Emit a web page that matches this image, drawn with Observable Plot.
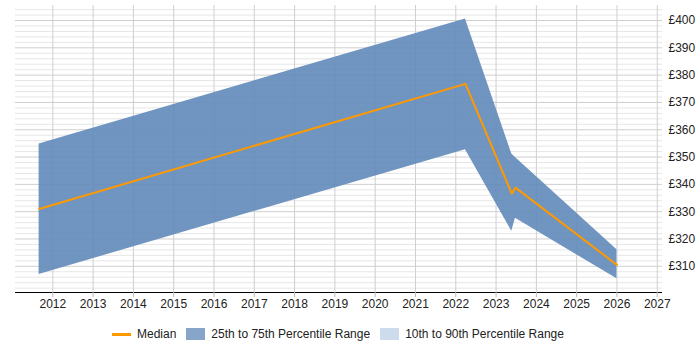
<!DOCTYPE html>
<html><head><meta charset="utf-8">
<script src="https://cdn.jsdelivr.net/npm/d3@7"></script>
<script src="https://cdn.jsdelivr.net/npm/@observablehq/plot@0.6"></script>
<style>
body{margin:0;background:#fff;font-family:"Liberation Sans",Arial,sans-serif;}
#chart{position:absolute;left:0;top:0;}
#legend{position:absolute;left:112px;top:326px;height:16px;display:flex;align-items:center;font-size:12px;color:#222;white-space:nowrap;}
.sw{display:inline-block;width:19px;}
.lab{margin-left:6px;margin-right:10px;}
</style></head><body>
<div id="chart"></div>
<div id="legend">
  <span class="sw" style="height:3px;background:#ff9900"></span><span class="lab">Median</span>
  <span class="sw" style="height:12px;background:#87a5c8"></span><span class="lab">25th to 75th Percentile Range</span>
  <span class="sw" style="height:12px;background:#cddcec"></span><span class="lab">10th to 90th Percentile Range</span>
</div>
<script>
const years  = [2011.66, 2022.24, 2023.39, 2023.48, 2026.0];
const p25    = [307.0, 352.7, 322.8, 327.6, 305.4];
const p75    = [354.8, 400.6, 351.1, 349.8, 316.1];
const median = [331.0, 376.8, 336.6, 338.8, 310.5];

const yearTicks = [2012,2013,2014,2015,2016,2017,2018,2019,2020,2021,2022,2023,2024,2025,2026,2027];
const yTicks = [310,320,330,340,350,360,370,380,390,400];
const minorTicks = d3.range(302, 406, 2).filter(v => v % 10 !== 0);

const data = years.map((x, i) => ({x, lo: p25[i], hi: p75[i], med: median[i]}));

const chart = Plot.plot({
  width: 700,
  height: 315,
  marginTop: 5,
  marginBottom: 23,
  marginLeft: 15,
  marginRight: 38,
  style: {fontFamily: '"Liberation Sans", Arial, sans-serif', fontSize: "12px", color: "#222", background: "#fff"},
  x: {domain: [2011.074, 2027.13], axis: null, label: null},
  y: {domain: [300.4, 405.5], axis: null, label: null},
  marks: [
    Plot.ruleY(minorTicks, {stroke: "#e6e6e6", strokeWidth: 1}),
    Plot.ruleY(yTicks, {stroke: "#cfcfcf", strokeWidth: 1}),
    Plot.ruleX(yearTicks, {stroke: "#cfcfcf", strokeWidth: 1}),
    Plot.areaY(data, {x: "x", y1: "lo", y2: "hi", fill: "#608ab9", fillOpacity: 0.9}),
    Plot.lineY(data, {x: "x", y: "med", stroke: "#ff9900", strokeWidth: 2}),
    Plot.ruleY([300.4], {stroke: "#000", strokeWidth: 1}),
    Plot.axisX(yearTicks, {anchor: "bottom", label: null, tickSize: 5, tickPadding: 2, stroke: "#bbb", tickFormat: d => String(d), fill: "#222"}),
    Plot.axisY(yTicks, {anchor: "right", label: null, tickSize: 0, tickPadding: 6, tickFormat: d => "£" + d, fill: "#222"})
  ]
});
document.getElementById("chart").appendChild(chart);
</script>
</body></html>
